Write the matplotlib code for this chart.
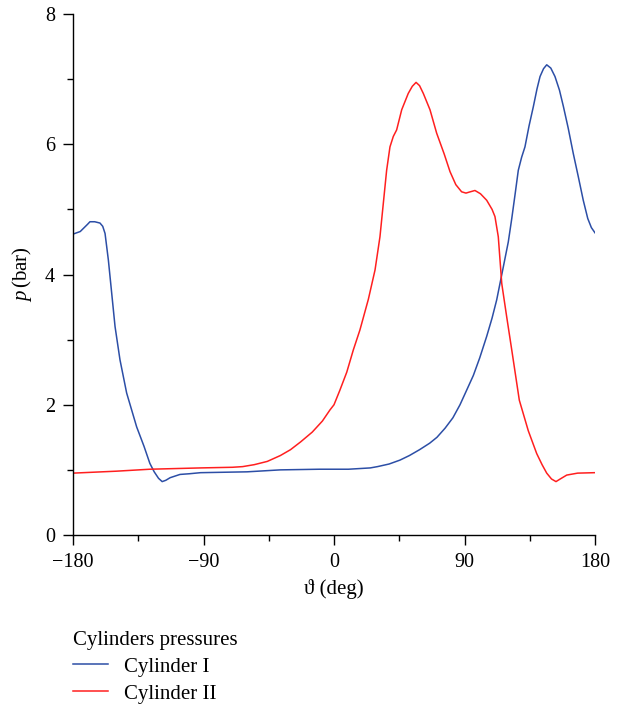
import numpy as np
import matplotlib
matplotlib.use('Agg')
import matplotlib.pyplot as plt
from matplotlib.ticker import MultipleLocator

# Crank angle (deg) and pressure (bar)
cyl1_deg = [-180, -175, -170, -168.3, -165, -161.4, -159.5, -157.9, -155.6, -153.3,
            -151, -147.6, -143, -136.1, -131, -127, -124, -121, -118.5, -116,
            -113, -106.2, -100, -92, -60, -37, -10, 10, 25, 30, 38,
            45.5, 52, 59, 66, 71, 76.6, 82, 86.9, 91, 96.1,
            100.5, 105.3, 109, 112.2, 116.8, 120.2, 122.6, 125, 127.1, 129.4,
            131.7, 134.5, 137.5, 140, 142.1, 144.5, 146.7, 149.5, 152.4, 155.5,
            158.2, 161.5, 165, 168.5, 171.9, 175, 177.5, 180]
cyl1_p = [4.62, 4.66, 4.77, 4.81, 4.81, 4.79, 4.74, 4.63, 4.22, 3.71,
          3.20, 2.69, 2.18, 1.66, 1.36, 1.10, 0.97, 0.87, 0.82, 0.84,
          0.88, 0.93, 0.94, 0.957, 0.97, 1.00, 1.01, 1.01, 1.03, 1.05, 1.09,
          1.15, 1.22, 1.31, 1.41, 1.50, 1.64, 1.80, 2.00, 2.20, 2.45,
          2.72, 3.05, 3.33, 3.61, 4.12, 4.50, 4.86, 5.25, 5.60, 5.80,
          5.96, 6.28, 6.58, 6.85, 7.04, 7.16, 7.22, 7.17, 7.04, 6.83,
          6.58, 6.25, 5.86, 5.50, 5.14, 4.86, 4.72, 4.64]

cyl2_deg = [-180, -150, -127, -92, -70, -63, -55, -46, -37, -30,
            -23, -15, -8, -2.8, 0, 4, 8.8, 13.3, 17.9, 23.7,
            28.3, 31.7, 34, 36.3, 38.6, 40.9, 43.2, 46.7, 51.2, 54,
            56.6, 59, 61.6, 66.2, 70.8, 76, 80, 84, 88, 91,
            94, 97.2, 101, 105.3, 109, 111, 113.3, 115.7, 119.1, 122.6,
            127.8, 134, 139.8, 143.5, 146.7, 150, 153.1, 156, 160.5, 168, 180]
cyl2_p = [0.95, 0.98, 1.01, 1.03, 1.04, 1.05, 1.08, 1.13, 1.22, 1.31,
          1.43, 1.58, 1.75, 1.92, 2.00, 2.22, 2.50, 2.84, 3.15, 3.62,
          4.07, 4.58, 5.09, 5.60, 5.96, 6.12, 6.22, 6.53, 6.78, 6.89,
          6.95, 6.90, 6.78, 6.53, 6.17, 5.85, 5.58, 5.38, 5.27, 5.25,
          5.27, 5.29, 5.24, 5.14, 5.00, 4.89, 4.58, 3.86, 3.35, 2.84,
          2.07, 1.60, 1.25, 1.08, 0.95, 0.86, 0.82, 0.86, 0.92, 0.95, 0.957]

x_ticks = [-180, -90, 0, 90, 180]
x_labels = ['\u2212180', '\u221290', '0', '90', '180']
y_ticks = [0, 2, 4, 6, 8]

plt.rcParams['font.family'] = ['Liberation Serif', 'DejaVu Serif']
plt.rcParams['mathtext.fontset'] = 'custom'
plt.rcParams['mathtext.it'] = 'Liberation Serif:italic'
plt.rcParams['mathtext.rm'] = 'Liberation Serif'


def main():
    fig = plt.figure(figsize=(6.23, 7.06), dpi=100)
    ax = fig.add_axes([73 / 623, 1 - 535 / 706, 522 / 623, 521 / 706])

    l1, = ax.plot(cyl1_deg, cyl1_p, color='#2c4ea6', lw=1.1)
    l2, = ax.plot(cyl2_deg, cyl2_p, color='#ff1f1f', lw=1.1)

    ax.set_xlim(-180, 180)
    ax.set_ylim(0, 8)
    ax.set_xticks(x_ticks)
    ax.set_xticklabels(x_labels)
    ax.set_yticks(y_ticks)
    ax.xaxis.set_minor_locator(MultipleLocator(45))
    ax.yaxis.set_minor_locator(MultipleLocator(1))
    ax.tick_params(which='major', length=7, width=1, labelsize=14.5, pad=6)
    ax.tick_params(which='minor', length=4.5, width=1)
    ax.spines['top'].set_visible(False)
    ax.spines['right'].set_visible(False)
    for s in ('left', 'bottom'):
        ax.spines[s].set_linewidth(1)

    ax.set_xlabel('\u03d1 (deg)', fontsize=15, labelpad=5)
    ax.set_ylabel(r'$p\,$(bar)', fontsize=15, labelpad=8)

    fig.legend((l1, l2), ('Cylinder I', 'Cylinder II'),
               title='Cylinders pressures', loc='upper left',
               bbox_to_anchor=(54 / 623, 1 - 612 / 706), frameon=False,
               fontsize=15, title_fontsize=15, handlelength=1.7,
               handletextpad=0.75, labelspacing=0.35, alignment='left')

    fig.savefig('out.png', dpi=100)


if __name__ == '__main__':
    main()
